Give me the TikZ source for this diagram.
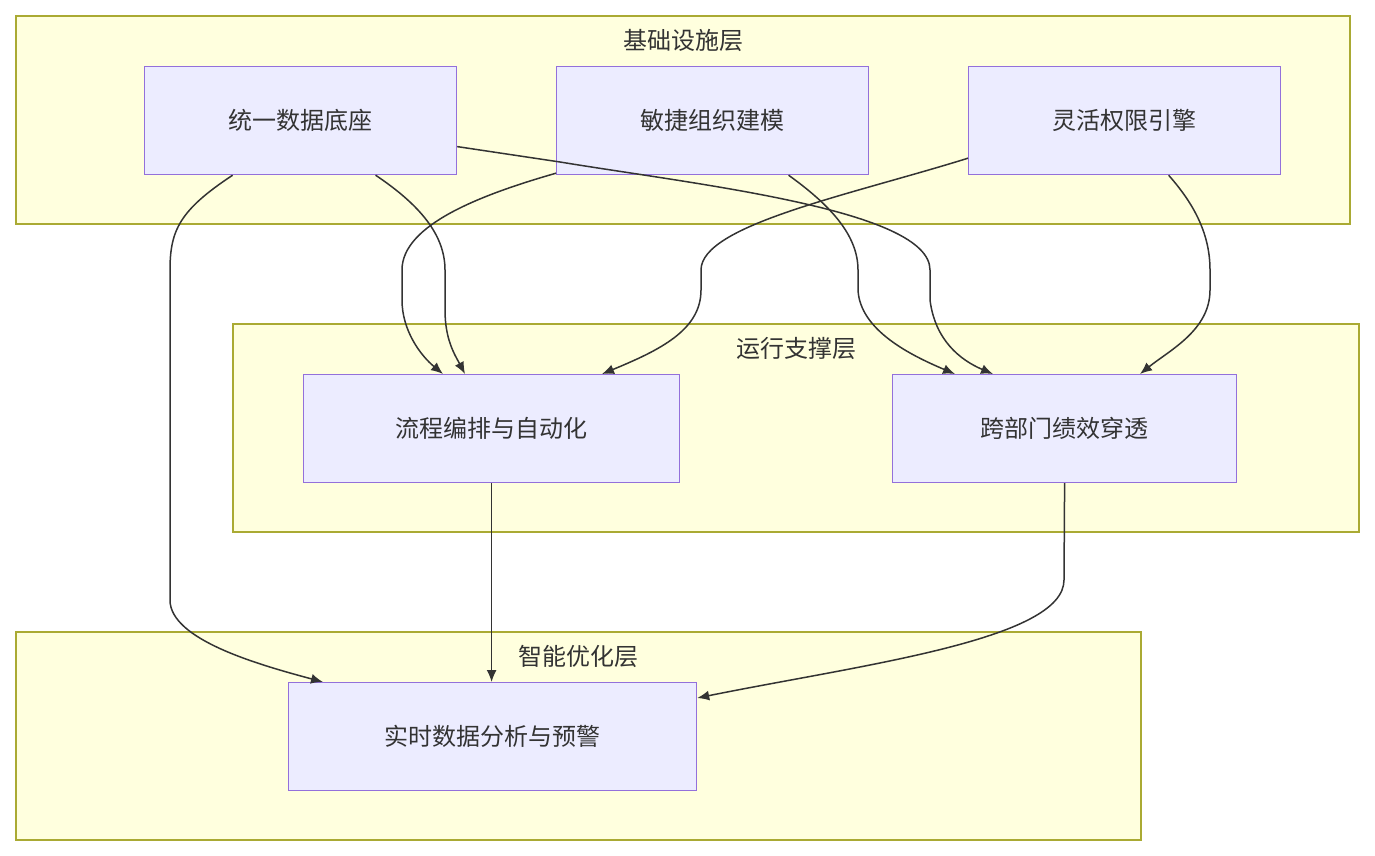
\documentclass[tikz,border=0pt]{standalone}
\usepackage{fontspec}
\setmainfont{Noto Sans CJK SC}
\usetikzlibrary{calc,arrows.meta}
\definecolor{clfill}{HTML}{FFFFDE}
\definecolor{cldraw}{HTML}{AAAA33}
\definecolor{ndfill}{HTML}{ECECFF}
\definecolor{nddraw}{HTML}{9370DB}
\definecolor{edge}{HTML}{333333}
\tikzset{
  layer/.style={draw=cldraw, fill=clfill, line width=1.2pt},
  block/.style={draw=nddraw, fill=ndfill, line width=1.2pt, rectangle, anchor=north west,
    inner sep=0pt, font=\fontsize{24}{28}\selectfont, text=edge},
  ttl/.style={font=\fontsize{24}{28}\selectfont, text=edge},
  flow/.style={draw=edge, line width=1.5pt, -{Latex[length=12pt,width=10pt]}}
}
\begin{document}
\begin{tikzpicture}[x=1pt,y=-1pt]
    \useasboundingbox (0,0) rectangle (1375,856);

    % layers
    \draw[layer] (16,16) rectangle (1350,224);
    \node[ttl] (t1) at (683,40) {基础设施层};
    \draw[layer] (233,324) rectangle (1359,532);
    \node[ttl] (t2) at (796,348) {运行支撑层};
    \draw[layer] (16,632) rectangle (1141,840);
    \node[ttl] (t3) at (578,656) {智能优化层};

    % nodes
    \node[block, minimum width=312pt, minimum height=108pt] (base) at (144,66) {统一数据底座};
    \node[block, minimum width=312pt, minimum height=108pt] (org) at (556,66) {敏捷组织建模};
    \node[block, minimum width=312pt, minimum height=108pt] (auth) at (968,66) {灵活权限引擎};
    \node[block, minimum width=376pt, minimum height=108pt] (flow) at (303,374) {流程编排与自动化};
    \node[block, minimum width=344pt, minimum height=108pt] (perf) at (892,374) {跨部门绩效穿透};
    \node[block, minimum width=408pt, minimum height=108pt] (warn) at (288,682) {实时数据分析与预警};

    % edges
    \draw[flow] ($(base.south)+(-68,0)$) .. controls (180,210) and (170,230) .. (170,270)
        -- (170,600) .. controls (170,640) and (260,665) .. ($(warn.north west)+(35,0)$);
    \draw[flow] ($(base.south)+(75,0)$) .. controls (420,205) and (445,235) .. (445,270)
        -- (445,310) .. controls (445,340) and (455,355) .. ($(flow.north west)+(162,0)$);
    \draw[flow] ($(base.east)+(0,26)$) -- (560,162) .. controls (700,185) and (930,210) .. (930,270)
        -- (930,300) .. controls (935,340) and (960,360) .. ($(perf.north west)+(101,0)$);
    \draw[flow] ($(org.south west)+(0,-2)$) .. controls (480,195) and (402,225) .. (402,270)
        -- (402,300) .. controls (402,330) and (420,355) .. ($(flow.north west)+(140,0)$);
    \draw[flow] ($(org.south)+(76,0)$) .. controls (830,205) and (858,235) .. (858,270)
        -- (858,290) .. controls (860,330) and (910,355) .. ($(perf.north west)+(63,0)$);
    \draw[flow] ($(auth.south west)+(0,-17)$) .. controls (850,195) and (701,225) .. (701,270)
        -- (701,290) .. controls (701,330) and (660,350) .. ($(flow.north west)+(299,0)$);
    \draw[flow] ($(auth.south)+(44,0)$) .. controls (1195,205) and (1210,235) .. (1210,270)
        -- (1210,290) .. controls (1210,330) and (1170,350) .. ($(perf.north west)+(248,0)$);
    \draw[flow] (flow.south) -- (flow.south |- warn.north);
    \draw[flow] (perf.south) -- (1064,580) .. controls (1064,640) and (860,665) .. ($(warn.north east)+(0,16)$);
\end{tikzpicture}
\end{document}
